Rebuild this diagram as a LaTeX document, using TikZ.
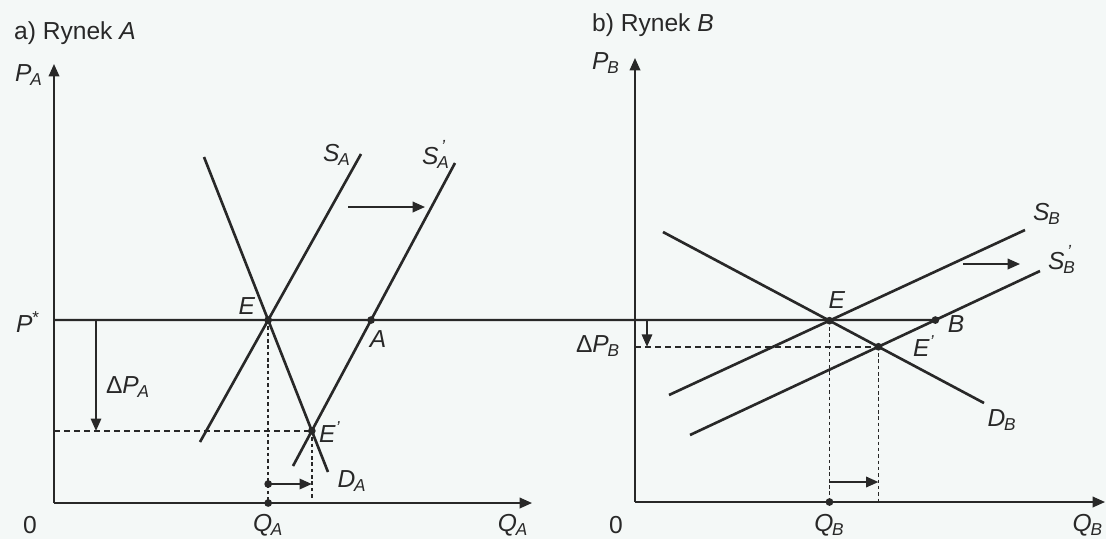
\documentclass[tikz,border=0pt]{standalone}
\usepackage{fontspec}
\setmainfont{Liberation Sans}
\usepackage{tikz}
\usetikzlibrary{arrows.meta, positioning}
\definecolor{cInk}{RGB}{40,40,40}
\definecolor{cPaper}{RGB}{244,248,247}
\newcommand{\vl}[2]{\textit{#1}\kern-0.05em\textsubscript{\textit{#2}}}
\newcommand{\vlp}[2]{\textit{#1}\rlap{\kern0.1em\raisebox{0.5em}{\fontsize{10}{10}\selectfont\textit{'}}}\kern-0.05em\textsubscript{\textit{#2}}}
\tikzset{
  axisline/.style={-{Triangle[length=7pt,width=6pt]}, line width=1pt, color=cInk},
  curve/.style={line width=1.5pt, color=cInk},
  guide/.style={line width=0.9pt, dash pattern=on 3.4pt off 2.3pt, color=cInk},
  dotguide/.style={line width=0.8pt, dash pattern=on 2pt off 1.6pt, color=cInk},
  shiftarrow/.style={-{Triangle[length=7pt,width=6pt]}, line width=1pt, color=cInk},
  dotnode/.style={circle, fill=cInk, inner sep=0pt, minimum size=4.4pt},
  lab/.style={font=\fontsize{14}{16}\selectfont, text=cInk, inner sep=1pt}
}
\begin{document}
\begin{tikzpicture}[x=0.02cm, y=-0.02cm]
  % Paper
  \fill[cPaper] (0,0) rectangle (1106,539);
  \useasboundingbox (0,0) rectangle (1106,539);

  % ---- a) Rynek A ----
  \coordinate (oA) at (54,503);
  \coordinate (pA) at (54,64);
  \coordinate (qA) at (532,503);
  \draw[axisline] (oA) -- (pA);
  \draw[axisline] (oA) -- (qA);

  \coordinate (dAt) at (204,157);
  \coordinate (dAb) at (328,472);
  \coordinate (sAb) at (200,442);
  \coordinate (sAt) at (361,154);
  \coordinate (s2Ab) at (293,466);
  \coordinate (s2At) at (455,163);
  \draw[curve] (dAt) -- (dAb);
  \draw[curve] (sAb) -- (sAt);
  \draw[curve] (s2Ab) -- (s2At);

  \coordinate (EA) at (intersection of dAt--dAb and sAb--sAt);
  \coordinate (E2A) at (intersection of dAt--dAb and s2Ab--s2At);
  \coordinate (pstar) at (oA |- EA);
  \coordinate (AA) at (intersection of pstar--EA and s2Ab--s2At);

  % ---- b) Rynek B ----
  \coordinate (oB) at (635,502);
  \coordinate (pB) at (635,58);
  \coordinate (qB) at (1105,502);
  \draw[axisline] (oB) -- (pB);
  \draw[axisline] (oB) -- (qB);

  \coordinate (dBt) at (663,232);
  \coordinate (dBb) at (984,403);
  \coordinate (sBb) at (669,395);
  \coordinate (sBt) at (1025,230);
  \coordinate (s2Bb) at (690,435);
  \coordinate (s2Bt) at (1040,271);
  \draw[curve] (dBt) -- (dBb);
  \draw[curve] (sBb) -- (sBt);
  \draw[curve] (s2Bb) -- (s2Bt);

  \coordinate (EB) at (intersection of dBt--dBb and sBb--sBt);
  \coordinate (E2B) at (intersection of dBt--dBb and s2Bb--s2Bt);
  \coordinate (BB) at (intersection of pstar--EA and s2Bb--s2Bt);

  % World price line
  \draw[curve, line width=1.3pt] (pstar) -- (BB);

  % Guides, market A
  \draw[guide] (oA |- E2A) -- (E2A);
  \draw[dotguide] (EA) -- (EA |- oA);
  \draw[dotguide] (E2A) -- (E2A |- 0,500);
  \coordinate (dpAs) at (96,0 |- EA);
  \coordinate (dpAe) at (96,0 |- E2A);
  \draw[shiftarrow, line width=0.8pt] (dpAs) -- (dpAe);
  \coordinate (qsA) at (EA |- 0,484);
  \coordinate (qeA) at (E2A |- 0,484);
  \draw[shiftarrow] (qsA) -- (qeA);
  \coordinate (ssA) at (348,207);
  \coordinate (seA) at (425,207);
  \draw[shiftarrow] (ssA) -- (seA);

  % Guides, market B
  \draw[guide] (oB |- E2B) -- (E2B);
  \draw[dotguide] (EB) -- (EB |- oB);
  \draw[dotguide] (E2B) -- (E2B |- oB);
  \coordinate (dpBs) at (647,0 |- EB);
  \coordinate (dpBe) at (647,0 |- E2B);
  \draw[shiftarrow, line width=0.8pt] (dpBs) -- (dpBe);
  \coordinate (qsB) at (EB |- 0,482);
  \coordinate (qeB) at (E2B |- 0,482);
  \draw[shiftarrow] (qsB) -- (qeB);
  \coordinate (ssB) at (963,264);
  \coordinate (seB) at (1020,264);
  \draw[shiftarrow] (ssB) -- (seB);

  % Points
  \node[dotnode] (ptEA) at (EA) {};
  \node[dotnode] (ptE2A) at (E2A) {};
  \node[dotnode] (ptAA) at (AA) {};
  \node[dotnode] (ptQA) at (EA |- oA) {};
  \node[dotnode] (ptqsA) at (qsA) {};
  \node[dotnode] (ptEB) at (EB) {};
  \node[dotnode] (ptE2B) at (E2B) {};
  \node[dotnode] (ptBB) at (BB) {};
  \node[dotnode] (ptQB) at (EB |- oB) {};

  % Labels, market A
  \node[lab, anchor=west] (ttlA) at (12,33) {a) Rynek \textit{A}};
  \node[lab] (labPA) at (29,75) {\vl{P}{A}};
  \node[lab] (labPs) at (28,322) {\textit{P}\textsuperscript{*}};
  \node[lab] (labZA) at (30,525) {0};
  \node[lab] (labQA) at (EA |- 0,525) {\vl{Q}{A}};
  \node[lab] (labQAx) at (513,525) {\vl{Q}{A}};
  \node[lab] (labEA) at (247,306) {\textit{E}};
  \node[lab] (labAA) at (378,339) {\textit{A}};
  \node[lab] (labE2A) at (330,432) {\textit{E}\textsuperscript{\textit{'}}};
  \node[lab] (labSA) at (337,155) {\vl{S}{A}};
  \node[lab] (labS2A) at (436,154) {\vlp{S}{A}};
  \node[lab] (labDA) at (352,481) {\vl{D}{A}};
  \node[lab] (labdPA) at (128,387) {Δ\vl{P}{A}};

  % Labels, market B
  \node[lab, anchor=west] (ttlB) at (590,25) {b) Rynek \textit{B}};
  \node[lab] (labPB) at (606,63) {\vl{P}{B}};
  \node[lab] (labZB) at (616,525) {0};
  \node[lab] (labQB) at (EB |- 0,525) {\vl{Q}{B}};
  \node[lab, anchor=east] (labQBx) at (1105,525) {\vl{Q}{B}};
  \node[lab] (labEB) at (837,300) {\textit{E}};
  \node[lab] (labE2B) at (924,346) {\textit{E}\textsuperscript{\textit{'}}};
  \node[lab] (labBB) at (956,324) {\textit{B}};
  \node[lab] (labSB) at (1047,214) {\vl{S}{B}};
  \node[lab] (labS2B) at (1062,259) {\vlp{S}{B}};
  \node[lab] (labDB) at (1002,420) {\vl{D}{B}};
  \node[lab] (labdPB) at (598,346) {Δ\vl{P}{B}};
\end{tikzpicture}
\end{document}
